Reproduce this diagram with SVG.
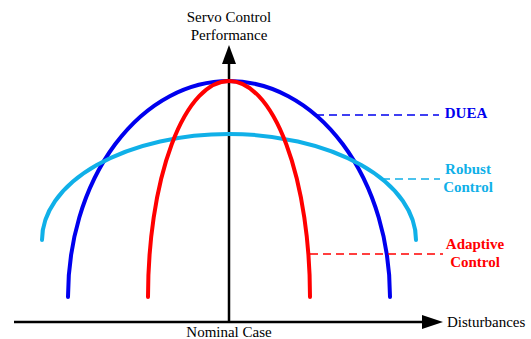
<svg xmlns="http://www.w3.org/2000/svg" width="531" height="339" viewBox="0 0 531 339">
<style>
.ax{stroke:#000;stroke-width:2.5;fill:none}
.c{fill:none;stroke-width:4;stroke-linecap:round}
.d{fill:none;stroke-width:1.5;stroke-dasharray:8,5}
.t{font-family:'Liberation Serif','Times New Roman',Times,serif;font-size:15px;fill:#000}
.b{font-family:'Liberation Serif','Times New Roman',Times,serif;font-size:15px;font-weight:bold}
</style>
<rect width="531" height="339" fill="#fff"/>
<g id="axes">
<line class="ax" x1="14" y1="322" x2="424" y2="322"/>
<polygon points="422,315 443,322 422,329" fill="#000"/>
<line class="ax" x1="229" y1="322" x2="229" y2="62"/>
<polygon points="222,64 229,45 236,64" fill="#000"/>
</g>
<g id="curves">
<path id="duea" class="c" stroke="#0000EE" d="M68,297 A161,216 0 0 1 390,297"/>
<path id="robust" class="c" stroke="#10B0E8" d="M42,240 A187,106 0 0 1 416,240"/>
<path id="adaptive" class="c" stroke="#FF0000" d="M148,297 A81,216 0 0 1 310,297"/>
</g>
<g id="connectors">
<line class="d" stroke="#0000EE" x1="316" y1="115" x2="439" y2="115"/>
<line class="d" stroke="#10B0E8" x1="382" y1="179" x2="440" y2="179"/>
<line class="d" stroke="#FF0000" x1="310" y1="254" x2="443" y2="254"/>
</g>
<g id="labels">
<text class="t" x="229" y="22" text-anchor="middle">Servo Control</text>
<text class="t" x="229" y="40" text-anchor="middle">Performance</text>
<text class="t" x="229" y="337" text-anchor="middle">Nominal Case</text>
<text class="t" x="447" y="327">Disturbances</text>
<text class="b" x="466" y="118" text-anchor="middle" fill="#0000EE">DUEA</text>
<text class="b" x="468" y="174" text-anchor="middle" fill="#10B0E8">Robust</text>
<text class="b" x="468" y="192" text-anchor="middle" fill="#10B0E8">Control</text>
<text class="b" x="475" y="249" text-anchor="middle" fill="#FF0000">Adaptive</text>
<text class="b" x="475" y="267" text-anchor="middle" fill="#FF0000">Control</text>
</g>
</svg>
